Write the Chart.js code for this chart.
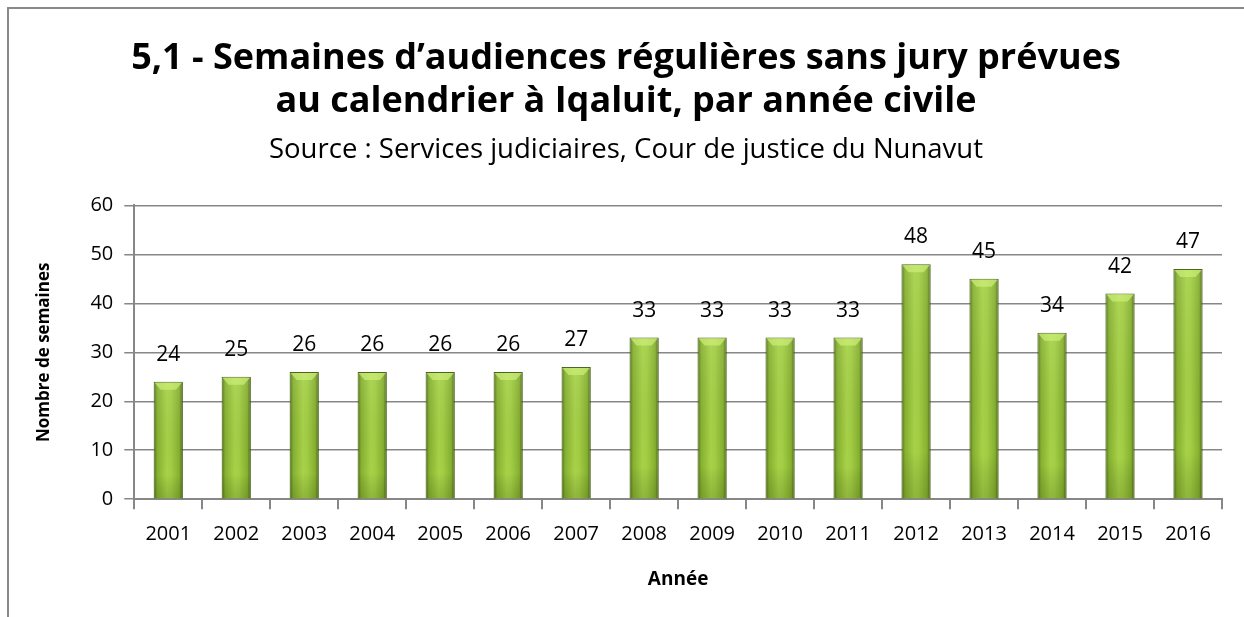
<!DOCTYPE html>
<html>
<head>
<meta charset="utf-8">
<script src="https://cdn.jsdelivr.net/npm/chart.js@4/dist/chart.umd.min.js"></script>
<style>
  html, body { margin: 0; padding: 0; background: #fff; }
  #wrap { position: relative; width: 1244px; height: 617px; }
  #frame { position: absolute; left: 7px; top: 7px; right: 0; bottom: 0;
           border-left: 2px solid #8a8a8a; border-top: 2px solid #8a8a8a; }
  canvas { position: absolute; left: 0; top: 0; }
</style>
</head>
<body>
<div id="wrap">
  <div id="frame"></div>
  <canvas id="weeks" width="1244" height="617"></canvas>
</div>
<script>
const years = ['2001', '2002', '2003', '2004', '2005', '2006', '2007', '2008',
               '2009', '2010', '2011', '2012', '2013', '2014', '2015', '2016']
const weeks = [24, 25, 26, 26, 26, 26, 27, 33, 33, 33, 33, 48, 45, 34, 42, 47]
const yTicks = [0, 10, 20, 30, 40, 50, 60]

const FONT = '"Open Sans", Lato, sans-serif'
const GRID = '#878787'

// horizontal shading for each bar: dark rims, light middle
const barFill = (ctx) => {
    const chart = ctx.chart
    const xs = chart.scales.x
    if (!xs || !chart.chartArea) return '#94c23a'
    const cx = xs.getPixelForValue(ctx.dataIndex)
    const w = xs.width / years.length * 0.43
    const g = chart.ctx.createLinearGradient(cx - w / 2, 0, cx + w / 2, 0)
    g.addColorStop(0, '#4a6a12')
    g.addColorStop(0.12, '#86b030')
    g.addColorStop(0.45, '#a7d248')
    g.addColorStop(0.6, '#a2ce44')
    g.addColorStop(0.88, '#86b030')
    g.addColorStop(1, '#3f5c0c')
    return g
}

// slightly darker foot and a bright bevel on top of each bar
const barShade = {
    id: 'barShade',
    afterDatasetsDraw(chart) {
        const c = chart.ctx
        chart.getDatasetMeta(0).data.forEach((bar) => {
            const { x, y, base, width } = bar.getProps(['x', 'y', 'base', 'width'], true)
            const l = x - width / 2, r = x + width / 2
            c.save()
            const v = c.createLinearGradient(0, y, 0, base)
            v.addColorStop(0, 'rgba(255,255,255,0.08)')
            v.addColorStop(0.8, 'rgba(0,0,0,0)')
            v.addColorStop(1, 'rgba(40,60,0,0.18)')
            c.fillStyle = v
            c.fillRect(l + 1, y, width - 2, base - y)
            const h = Math.min(8, (base - y) / 3)
            c.beginPath()
            c.moveTo(l + 1, y + 1)
            c.lineTo(r - 1, y + 1)
            c.lineTo(r - 7, y + h)
            c.lineTo(l + 7, y + h)
            c.closePath()
            c.fillStyle = 'rgba(205,240,120,0.7)'
            c.fill()
            c.restore()
        })
    }
}

// value written above each bar
const barValues = {
    id: 'barValues',
    afterDatasetsDraw(chart) {
        const c = chart.ctx
        c.save()
        c.font = '21px ' + FONT
        c.fillStyle = '#000'
        c.textAlign = 'center'
        c.textBaseline = 'middle'
        chart.getDatasetMeta(0).data.forEach((bar, i) => {
            c.fillText(String(weeks[i]), bar.x, bar.y - 27)
        })
        c.restore()
    }
}

new Chart(document.getElementById('weeks'), {
    type: 'bar',
    data: {
        labels: years,
        datasets: [{
            data: weeks,
            backgroundColor: barFill,
            borderColor: '#3d5a0c',
            borderWidth: 1,
            categoryPercentage: 1,
            barPercentage: 0.43
        }]
    },
    options: {
        responsive: false,
        animation: false,
        devicePixelRatio: 1,
        layout: { padding: { left: 30, right: 22, top: 37, bottom: 22 } },
        plugins: {
            legend: { display: false },
            tooltip: { enabled: false },
            title: {
                display: true,
                text: ['5,1 - Semaines d’audiences régulières sans jury prévues',
                       'au calendrier à Iqaluit, par année civile'],
                color: '#000',
                font: { family: FONT, size: 36, weight: 'bold', lineHeight: 1.2 },
                padding: { top: 0, bottom: 10 }
            },
            subtitle: {
                display: true,
                text: 'Source : Services judiciaires, Cour de justice du Nunavut',
                color: '#000',
                font: { family: FONT, size: 27.5, lineHeight: 1.2 },
                padding: { top: 0, bottom: 39 }
            }
        },
        scales: {
            x: {
                grid: { drawOnChartArea: false, color: GRID, lineWidth: 2, tickLength: 10 },
                border: { color: GRID, width: 2 },
                ticks: { color: '#000', font: { family: FONT, size: 20 }, padding: 13, maxRotation: 0 },
                title: {
                    display: true, text: 'Année', color: '#000',
                    font: { family: FONT, size: 19, weight: 'bold' }, padding: { top: 9 }
                }
            },
            y: {
                min: 0,
                max: 60,
                afterBuildTicks: (axis) => { axis.ticks = yTicks.map((v) => ({ value: v })) },
                grid: { color: GRID, lineWidth: 1.5, tickLength: 10 },
                border: { color: GRID, width: 2 },
                ticks: { color: '#000', font: { family: FONT, size: 20 }, padding: 11 },
                title: {
                    display: true, text: 'Nombre de semaines', color: '#000',
                    font: { family: FONT, size: 17, weight: 'bold' }, padding: { bottom: 25 }
                }
            }
        }
    },
    plugins: [barShade, barValues]
})
</script>
</body>
</html>
